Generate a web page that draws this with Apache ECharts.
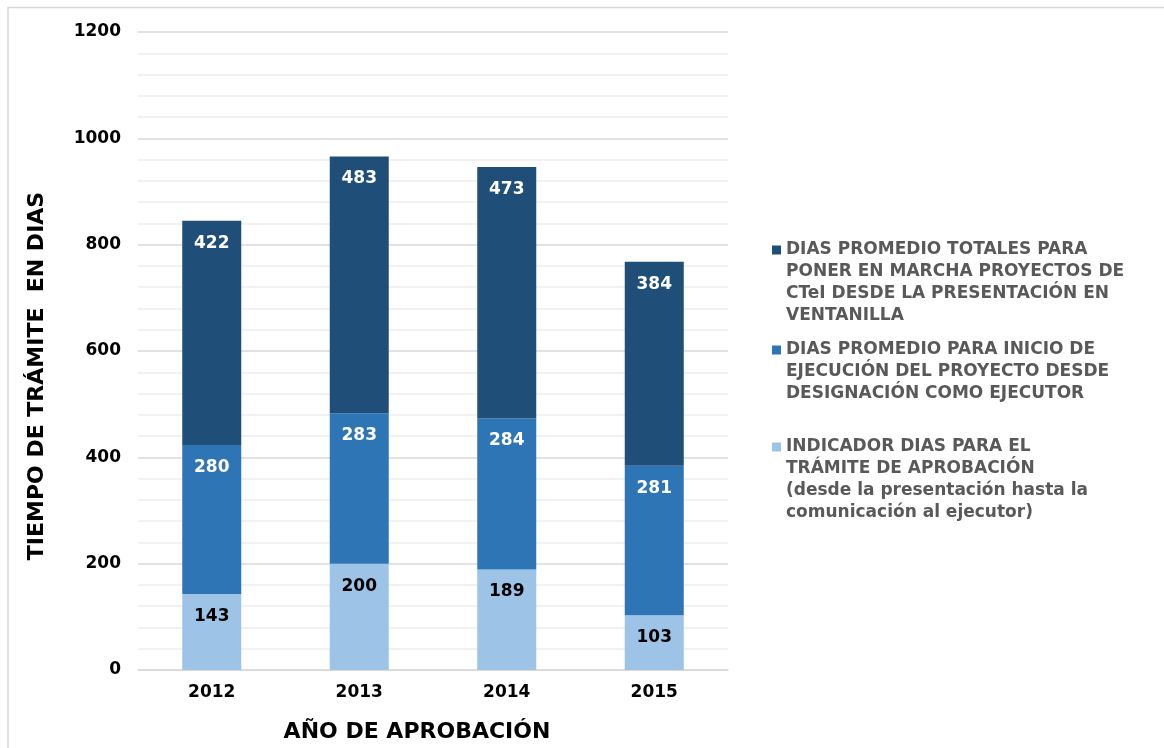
<!DOCTYPE html>
<html>
<head>
<meta charset="utf-8" />
<title>Tiempo de trámite</title>
<script src="https://cdn.jsdelivr.net/npm/echarts@6/dist/echarts.min.js"></script>
<style>
  html, body { margin: 0; padding: 0; background: #fff; }
  #main { width: 1164px; height: 748px; }
</style>
</head>
<body>
<div id="main"></div>
<script>
// datos
var years = ['2012', '2013', '2014', '2015'];
var diasTramite = [143, 200, 189, 103];
var diasInicio = [280, 283, 284, 281];
var diasTotales = [422, 483, 473, 384];

var nameTramite = 'INDICADOR DIAS PARA EL\nTRÁMITE DE APROBACIÓN\n(desde la presentación hasta la\ncomunicación al ejecutor)';
var nameInicio = 'DIAS PROMEDIO PARA INICIO DE\nEJECUCIÓN DEL PROYECTO DESDE\nDESIGNACIÓN COMO EJECUTOR';
var nameTotales = 'DIAS PROMEDIO TOTALES PARA\nPONER EN MARCHA PROYECTOS DE\nCTeI DESDE LA PRESENTACIÓN EN\nVENTANILLA';

var FONT = 'DejaVu Sans';
var LH = 21.7;

// una leyenda por serie; el texto va centrado en el cuadro, así que se
// anteponen líneas vacías para que el cuadro quede en la primera línea
function legendFor(name, lines, firstLine) {
  var pre = new Array(lines).join('\n');
  return {
    data: [name],
    left: 772,
    top: firstLine - (lines - 1) * LH - LH / 2,
    padding: 0,
    icon: 'rect',
    itemWidth: 9,
    itemHeight: 9,
    itemGap: 0,
    selectedMode: false,
    formatter: function (n) { return pre + n; },
    textStyle: {
      fontFamily: FONT,
      fontWeight: 'bold',
      fontSize: 17,
      color: '#595959',
      lineHeight: LH
    }
  };
}

function barLabel(color) {
  return {
    show: true,
    position: 'insideTop',
    distance: 14,
    fontFamily: FONT,
    fontWeight: 'bold',
    fontSize: 17,
    color: color
  };
}

var myChart = echarts.init(document.getElementById('main'));

myChart.setOption({
  animation: false,
  // marco del área del gráfico (solo arriba e izquierda se ven)
  graphic: [{
    type: 'polyline',
    shape: { points: [[8, 760], [8, 7.5], [1180, 7.5]] },
    style: { fill: null, stroke: '#d9d9d9', lineWidth: 1.5 },
    silent: true
  }],
  legend: [
    legendFor(nameTotales, 4, 250),
    legendFor(nameInicio, 3, 350),
    legendFor(nameTramite, 4, 447)
  ],
  grid: { left: 138, right: 436, top: 32, bottom: 78, outerBoundsMode: 'none', containLabel: false },
  xAxis: {
    type: 'category',
    data: years,
    name: 'AÑO DE APROBACIÓN',
    nameLocation: 'middle',
    nameGap: 51,
    nameTextStyle: { fontFamily: FONT, fontWeight: 'bold', fontSize: 22, color: '#000', padding: [0, 32, 0, 0] },
    axisLine: { lineStyle: { color: '#d9d9d9', width: 1.5 } },
    axisTick: { show: false },
    axisLabel: { fontFamily: FONT, fontWeight: 'bold', fontSize: 17, color: '#000', margin: 14 }
  },
  yAxis: {
    type: 'value',
    min: 0,
    max: 1200,
    interval: 200,
    name: 'TIEMPO DE TRÁMITE  EN DIAS',
    nameLocation: 'middle',
    nameGap: 90,
    nameTextStyle: { fontFamily: FONT, fontWeight: 'bold', fontSize: 22, color: '#000', padding: [0, 50, 0, 0] },
    axisLine: { show: false },
    axisTick: { show: false },
    axisLabel: {
      fontFamily: FONT, fontWeight: 'bold', fontSize: 17, color: '#000', margin: 17,
      formatter: function (v) { return String(v); }
    },
    splitLine: { lineStyle: { color: '#d9d9d9', width: 1.5 } },
    minorTick: { show: false, splitNumber: 5 },
    minorSplitLine: { show: true, lineStyle: { color: '#eeeeee', width: 1.5 } }
  },
  series: [{
    name: nameTramite,
    type: 'bar',
    stack: 'total',
    barWidth: 59,
    data: diasTramite,
    itemStyle: { color: '#9dc3e6' },
    label: barLabel('#000')
  }, {
    name: nameInicio,
    type: 'bar',
    stack: 'total',
    data: diasInicio,
    itemStyle: { color: '#2e75b6' },
    label: barLabel('#fff')
  }, {
    name: nameTotales,
    type: 'bar',
    stack: 'total',
    data: diasTotales,
    itemStyle: { color: '#1f4e79' },
    label: barLabel('#fff')
  }]
});
</script>
</body>
</html>
